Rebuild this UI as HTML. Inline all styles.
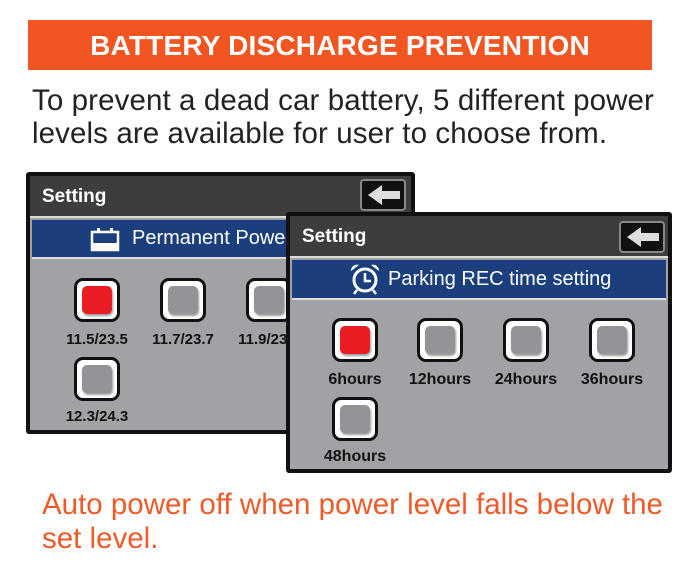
<!DOCTYPE html>
<html><head><style>
body{margin:0;width:700px;height:570px;background:#fff;position:relative;overflow:hidden;font-family:"Liberation Sans",sans-serif}
.a{position:absolute}
.banner{left:28px;top:20px;width:624px;height:50px;background:#f05522;color:#fff;font-weight:bold;font-size:28px;text-align:center;line-height:52px;letter-spacing:0.2px}
.t{left:32px;font-size:29.5px;color:#222;white-space:nowrap;letter-spacing:0.1px}
.o{left:42px;font-size:29.5px;color:#f05a28;white-space:nowrap;letter-spacing:0px}
.win{background:#a1a2a5;border:4px solid #111;border-radius:3px;box-sizing:border-box}
.hd{left:0;top:0;right:0;background:#3d3d3d;color:#fff;font-weight:bold;font-size:19px;padding-left:12px;box-sizing:border-box;border-bottom:2px solid #ddd}
.bl{left:2px;right:2px;background:#1b3f7c;color:#fff;font-size:20px;border-bottom:2px solid #ddd;white-space:nowrap}
.back{width:46px;height:32px;background:#111;border:2px solid #888;border-radius:4px;box-sizing:border-box}
.btn{width:46px;height:44px;background:#fff;border:3px solid #111;border-radius:9px;box-sizing:border-box}
.btn::after{content:"";position:absolute;left:5px;top:5px;width:30px;height:28px;border-radius:5px;background:#939498;box-shadow:1px 2px 2px rgba(0,0,0,.4)}
.btn.r::after{background:#ea1c24}
.lb{font-weight:bold;font-size:15px;color:#111;width:90px;text-align:center}
.lh{font-size:16px}
</style></head><body>
<div class="a banner">BATTERY DISCHARGE PREVENTION</div>
<div class="a t" style="top:84px">To prevent a dead car battery, 5 different power</div>
<div class="a t" style="top:117px">levels are available for user to choose from.</div>

<div class="a win" style="left:26px;top:172px;width:389px;height:262px">
 <div class="a hd" style="height:42px;line-height:42px">Setting</div>
 <div class="a back" style="left:330px;top:3px"><svg width="42" height="28" style="position:absolute;left:0;top:0"><polygon points="6,14 20,4 20,10 38,10 38,18 20,18 20,24" fill="#ddd"/></svg></div>
 <div class="a bl" style="top:44px;height:37px;line-height:37px">
  <svg width="30" height="26" style="position:absolute;left:58px;top:6px"><rect x="2" y="6" width="26" height="18" fill="none" stroke="#fff" stroke-width="2.5"/><rect x="2" y="17" width="26" height="7" fill="#fff"/><rect x="7" y="2" width="3" height="5" fill="#fff"/><rect x="20" y="2" width="3" height="5" fill="#fff"/></svg>
  <span style="position:absolute;left:100px">Permanent Power</span></div>
 <div class="a btn r" style="left:44px;top:102px"></div>
 <div class="a btn" style="left:130px;top:102px"></div>
 <div class="a btn" style="left:216px;top:102px"></div>
 <div class="a lb" style="left:22px;top:155px">11.5/23.5</div>
 <div class="a lb" style="left:108px;top:155px">11.7/23.7</div>
 <div class="a lb" style="left:194px;top:155px">11.9/23.9</div>
 <div class="a btn" style="left:44px;top:181px"></div>
 <div class="a lb" style="left:22px;top:232px">12.3/24.3</div>
</div>

<div class="a win" style="left:286px;top:212px;width:386px;height:261px">
 <div class="a hd" style="height:42px;line-height:42px">Setting</div>
 <div class="a back" style="left:329px;top:5px"><svg width="42" height="28" style="position:absolute;left:0;top:0"><polygon points="6,14 20,4 20,10 38,10 38,18 20,18 20,24" fill="#ddd"/></svg></div>
 <div class="a bl" style="top:44px;height:38px;line-height:38px">
  <svg width="34" height="34" style="position:absolute;left:56px;top:2px"><circle cx="17" cy="18" r="11" fill="none" stroke="#fff" stroke-width="3"/><path d="M17 11v8h6" fill="none" stroke="#fff" stroke-width="2.5"/><path d="M3 9a6 6 0 0 1 8-6zM31 9a6 6 0 0 0-8-6z" fill="#fff"/><path d="M9 28l-3 4M25 28l3 4" stroke="#fff" stroke-width="2.5"/></svg>
  <span style="position:absolute;left:96px">Parking REC time setting</span></div>
 <div class="a btn r" style="left:42px;top:102px"></div>
 <div class="a btn" style="left:127px;top:102px"></div>
 <div class="a btn" style="left:213px;top:102px"></div>
 <div class="a btn" style="left:299px;top:102px"></div>
 <div class="a lb lh" style="left:20px;top:155px">6hours</div>
 <div class="a lb lh" style="left:105px;top:155px">12hours</div>
 <div class="a lb lh" style="left:191px;top:155px">24hours</div>
 <div class="a lb lh" style="left:277px;top:155px">36hours</div>
 <div class="a btn" style="left:42px;top:181px"></div>
 <div class="a lb lh" style="left:20px;top:232px">48hours</div>
</div>

<div class="a o" style="top:488px">Auto power off when power level falls below the</div>
<div class="a o" style="top:522px">set level.</div>
</body></html>
